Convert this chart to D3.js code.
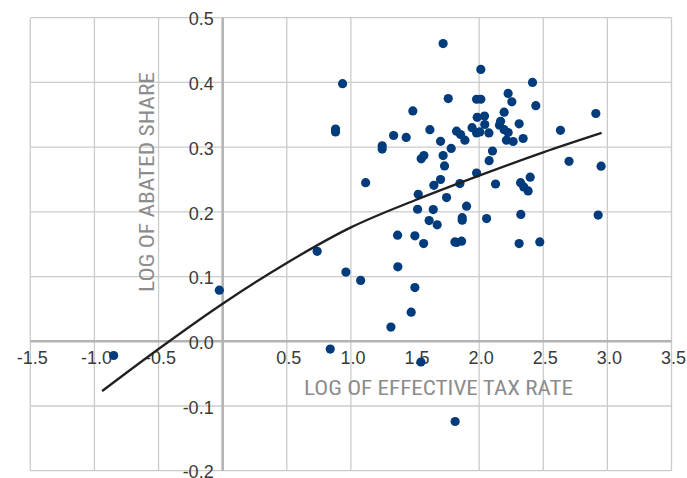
<!DOCTYPE html>
<html>
<head>
<meta charset="utf-8">
<script src="https://cdn.jsdelivr.net/npm/d3@7"></script>
<style>
  html, body { margin: 0; padding: 0; background: #ffffff; }
  svg { display: block; }
</style>
</head>
<body>
<svg id="chart" width="687" height="478"></svg>
<script>
// ---- data ----
const xVals = [
  -0.850, -0.026, 0.737, 0.839, 0.880, 0.880, 0.935, 0.961, 1.076, 1.115,
  1.244, 1.244, 1.312, 1.333, 1.364, 1.366, 1.431, 1.470, 1.483, 1.499,
  1.499, 1.520, 1.525, 1.546, 1.548, 1.567, 1.569, 1.610, 1.616, 1.642,
  1.647, 1.673, 1.699, 1.699, 1.719, 1.719, 1.730, 1.746, 1.759, 1.782,
  1.811, 1.813, 1.824, 1.824, 1.850, 1.855, 1.863, 1.868, 1.868, 1.889,
  1.902, 1.945, 1.980, 1.980, 1.980, 1.985, 2.005, 2.013, 2.013, 2.042,
  2.044, 2.058, 2.076, 2.078, 2.104, 2.128, 2.159, 2.167, 2.195, 2.195,
  2.213, 2.226, 2.226, 2.255, 2.265, 2.312, 2.312, 2.323, 2.325, 2.343,
  2.348, 2.382, 2.398, 2.416, 2.442, 2.473, 2.634, 2.701, 2.910, 2.928,
  2.951
];
const yVals = [
  -0.022, 0.079, 0.139, -0.012, 0.328, 0.3235, 0.398, 0.107, 0.094, 0.245,
  0.302, 0.297, 0.022, 0.318, 0.164, 0.115, 0.315, 0.045, 0.356, 0.163,
  0.083, 0.204, 0.227, -0.032, 0.282, 0.151, 0.287, 0.1865, 0.327, 0.2035,
  0.241, 0.180, 0.309, 0.250, 0.460, 0.287, 0.271, 0.222, 0.375, 0.298,
  0.1535, -0.124, 0.3246, 0.1526, 0.2437, 0.3195, 0.1546, 0.191, 0.187, 0.3107,
  0.2087, 0.330, 0.374, 0.322, 0.260, 0.346, 0.3235, 0.420, 0.374, 0.348,
  0.335, 0.1896, 0.322, 0.279, 0.294, 0.243, 0.334, 0.340, 0.354, 0.327,
  0.3107, 0.383, 0.3226, 0.370, 0.3087, 0.336, 0.151, 0.245, 0.196, 0.3133,
  0.2385, 0.2323, 0.2535, 0.400, 0.364, 0.1535, 0.326, 0.278, 0.352, 0.195,
  0.2705
];
// trend line, points
const trendX = [-0.94, -0.5, 0, 0.5, 1.0, 1.5, 2.0, 2.5, 2.955];
const trendY = [-0.077, -0.012, 0.058, 0.121, 0.176, 0.218, 0.256, 0.292, 0.322];

const xTicks = [-1.5, -1.0, -0.5, 0.5, 1.0, 1.5, 2.0, 2.5, 3.0, 3.5];
const xTickLabels = ["-1.5", "-1.0", "-0.5", "0.5", "1.0", "1.5", "2.0", "2.5", "3.0", "3.5"];
const xGrid = [-1.5, -1.0, -0.5, 0.5, 1.0, 2.0, 2.5, 3.0, 3.5];
const yTicks = [0.5, 0.4, 0.3, 0.2, 0.1, 0.0, -0.1, -0.2];
const yTickLabels = ["0.5", "0.4", "0.3", "0.2", "0.1", "0.0", "-0.1", "-0.2"];
const xTitle = "LOG OF EFFECTIVE TAX RATE";
const yTitle = "LOG OF ABATED SHARE";

// ---- drawing ----
const svg = d3.select("#chart");
const x = d3.scaleLinear().domain([-1.5, 3.5]).range([30.3, 671.5]);
const y = d3.scaleLinear().domain([-0.2, 0.5]).range([470.7, 17.7]);

const gridColor = "#cbcbcb";
const grid = svg.append("g");
grid.selectAll("line.v").data(xGrid).join("line")
  .attr("x1", d => x(d)).attr("x2", d => x(d))
  .attr("y1", y(0.5)).attr("y2", y(-0.2))
  .attr("stroke", gridColor).attr("stroke-width", 1.3);
grid.selectAll("line.h").data(yTicks.filter(d => d !== 0)).join("line")
  .attr("x1", x(-1.5)).attr("x2", x(3.5))
  .attr("y1", d => y(d)).attr("y2", d => y(d))
  .attr("stroke", gridColor).attr("stroke-width", 1.3);

// zero axes
svg.append("line")
  .attr("x1", x(0)).attr("x2", x(0)).attr("y1", y(0.5)).attr("y2", y(-0.2))
  .attr("stroke", "#b3b3b3").attr("stroke-width", 2.6);
svg.append("line")
  .attr("x1", x(-1.5)).attr("x2", x(3.5)).attr("y1", y(0)).attr("y2", y(0))
  .attr("stroke", "#b3b3b3").attr("stroke-width", 2.4);

const tickFont = "'Liberation Sans', Arial, sans-serif";

// y axis tick labels
const yAxis = d3.axisLeft(y).tickValues(yTicks).tickSize(0).tickPadding(9)
  .tickFormat((d, i) => yTickLabels[i]);
const gy = svg.append("g").attr("transform", `translate(${x(0)},0)`).call(yAxis);
gy.select(".domain").remove();
gy.selectAll("text").attr("font-family", tickFont).attr("font-size", 18)
  .attr("fill", "#3a3a3a").attr("dy", "0.40em");

// x axis tick labels
const xAxis = d3.axisBottom(x).tickValues(xTicks).tickSize(0).tickPadding(10)
  .tickFormat((d, i) => xTickLabels[i]);
const gx = svg.append("g").attr("transform", `translate(1.5,${y(0)})`).call(xAxis);
gx.select(".domain").remove();
gx.selectAll("text").attr("font-family", tickFont).attr("font-size", 18)
  .attr("fill", "#3a3a3a");

// axis titles
const titleFont = "'Liberation Sans Narrow', 'Roboto Condensed', 'Liberation Sans', Arial, sans-serif";
svg.append("text")
  .attr("x", 438.5).attr("y", 395)
  .attr("text-anchor", "middle")
  .attr("font-family", titleFont).attr("font-size", 20.5)
  .attr("fill", "#8c8c8c")
  .attr("textLength", 269).attr("lengthAdjust", "spacingAndGlyphs")
  .text(xTitle);
svg.append("text")
  .attr("transform", "translate(154,182) rotate(-90)")
  .attr("text-anchor", "middle")
  .attr("font-family", titleFont).attr("font-size", 21)
  .attr("fill", "#8c8c8c")
  .attr("textLength", 220).attr("lengthAdjust", "spacingAndGlyphs")
  .text(yTitle);

// scatter points
const pts = xVals.map((v, i) => ({ x: v, y: yVals[i] }));
svg.append("g").selectAll("circle").data(pts).join("circle")
  .attr("cx", d => x(d.x)).attr("cy", d => y(d.y)).attr("r", 4.6)
  .attr("fill", "#003b7b");

// trend line
const trend = trendX.map((v, i) => ({ x: v, y: trendY[i] }));
svg.append("path")
  .datum(trend)
  .attr("d", d3.line().x(d => x(d.x)).y(d => y(d.y)).curve(d3.curveMonotoneX))
  .attr("fill", "none").attr("stroke", "#231f20").attr("stroke-width", 2.3);
</script>
</body>
</html>
